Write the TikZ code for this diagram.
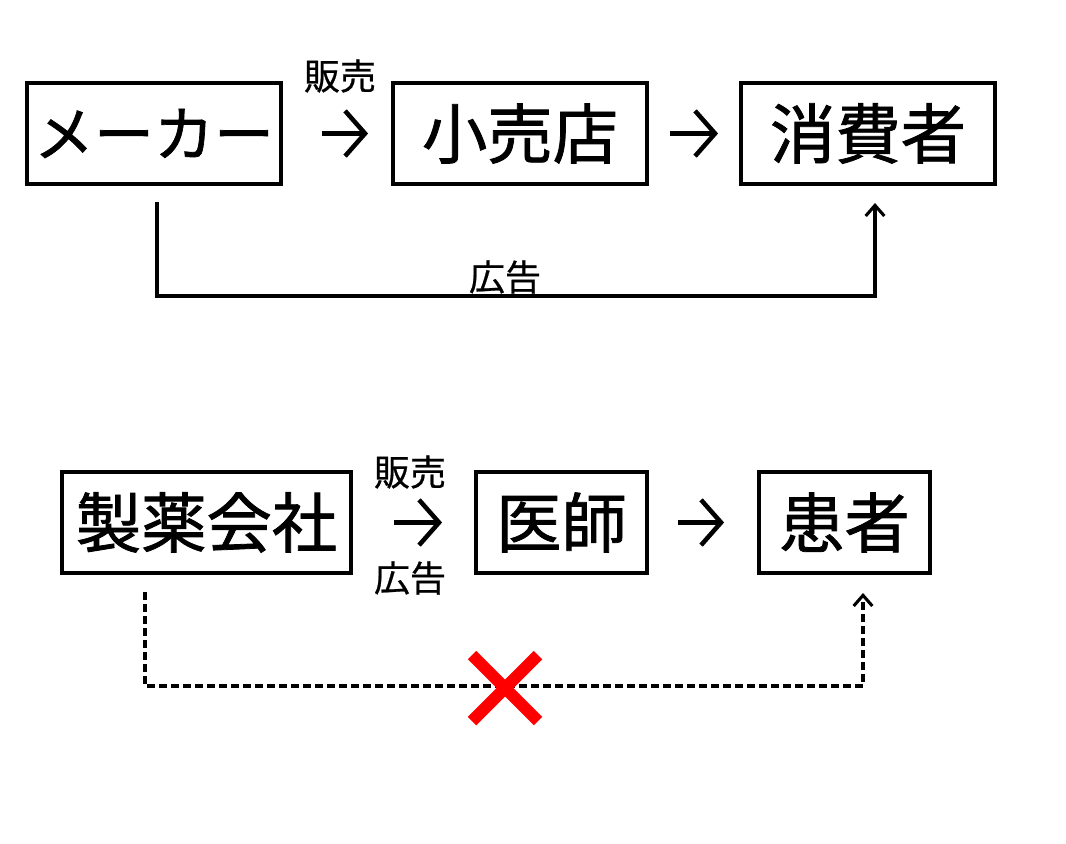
\documentclass[tikz,border=0pt]{standalone}
\usepackage{fontspec}
\setmainfont{Noto Sans CJK JP}
\newfontfamily\boxfont[FakeBold=1.2]{Noto Sans CJK JP}
\newfontfamily\lblfont[FakeBold=0.6]{Noto Sans CJK JP}
\usetikzlibrary{arrows.meta}
\begin{document}
\begin{tikzpicture}[x=0.75pt,y=-0.75pt,
  box/.style={draw=black, line width=2.9pt, inner sep=0pt, font=\boxfont\fontsize{49}{52}\selectfont},
  widebox/.style={box, font=\boxfont\fontsize{45}{50}\selectfont, text width=254*0.75pt-2.9pt, align=center},
  lbl/.style={inner sep=0pt, font=\lblfont\fontsize{27}{30}\selectfont},
  bigarrow/.style={line width=3.4pt, -{Straight Barb[length=15pt,width=34pt]}},
  link/.style={line width=2.3pt, -{Straight Barb[length=8pt,width=14pt]}},
  dlink/.style={link, dash pattern=on 6pt off 3pt},
  cross/.style={draw=red, line width=9pt}
]
\useasboundingbox (0,0) rectangle (1066,843);

% Row 1
\node[widebox, minimum width=254*0.75pt, minimum height=101*0.75pt] (maker) at (154,133.5) {メーカー};
\node[box, minimum width=254*0.75pt, minimum height=101*0.75pt] (shop) at (520,133.5) {小売店};
\node[box, minimum width=254*0.75pt, minimum height=101*0.75pt] (cons) at (868,133.5) {消費者};
\node[lbl] (sell1) at (340,76) {販売};
\draw[bigarrow, shorten <=39*0.75pt, shorten >=23*0.75pt] (maker) -- (shop);
\draw[bigarrow, shorten <=21*0.75pt, shorten >=21*0.75pt] (shop) -- (cons);
\coordinate (s1) at (157,202);
\coordinate (c1) at (875,296);
\coordinate (e1) at (875,203);
\draw[link] (s1) |- (c1) -- (e1);
\node[lbl] (ad1) at (505,277) {広告};

% Row 2
\node[box, minimum width=289*0.75pt, minimum height=101*0.75pt] (pharma) at (206.5,522.5) {製薬会社};
\node[box, minimum width=171*0.75pt, minimum height=101*0.75pt] (doctor) at (561.5,522.5) {医師};
\node[box, minimum width=171*0.75pt, minimum height=101*0.75pt] (patient) at (844.5,522.5) {患者};
\node[lbl] (sell2) at (410,472) {販売};
\node[lbl] (ad2) at (410,578) {広告};
\draw[bigarrow, shorten <=41*0.75pt, shorten >=32*0.75pt] (pharma) -- (doctor);
\draw[bigarrow, shorten <=29*0.75pt, shorten >=33*0.75pt] (doctor) -- (patient);
\coordinate (s2) at (145,592);
\coordinate (c2) at (863,686);
\coordinate (e2) at (863,593);
\draw[dlink] (s2) |- (c2) -- (e2);

% Red cross
\draw[cross] (472,655) -- (538,721);
\draw[cross] (538,655) -- (472,721);
\end{tikzpicture}
\end{document}
